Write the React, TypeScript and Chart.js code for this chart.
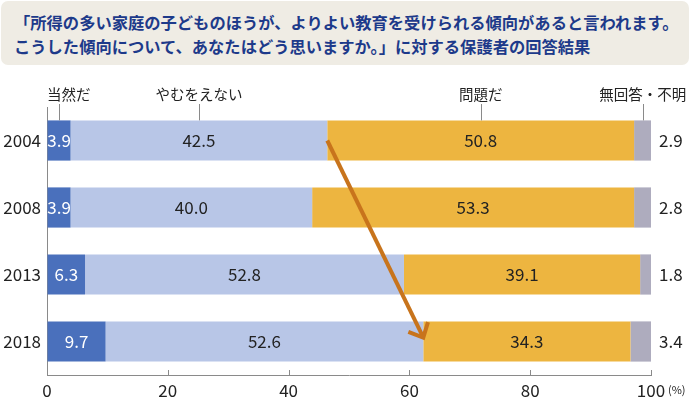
import React, { useEffect, useRef } from 'react';
import { Chart, registerables } from 'chart.js';

Chart.register(...registerables);

const years = ['2004', '2008', '2013', '2018'];
const seriesNames = ['当然だ', 'やむをえない', '問題だ', '無回答・不明'];
const natural = [3.9, 3.9, 6.3, 9.7];
const unavoidable = [42.5, 40.0, 52.8, 52.6];
const problem = [50.8, 53.3, 39.1, 34.3];
const noAnswer = [2.9, 2.8, 1.8, 3.4];
const seriesColors = ['#4A70BC', '#B8C6E7', '#EDB540', '#AEACBE'];
const xTickValues = [0, 20, 40, 60, 80, 100];
const titleLines = [
  '「所得の多い家庭の子どものほうが、よりよい教育を受けられる傾向があると言われます。',
  'こうした傾向について、あなたはどう思いますか。」に対する保護者の回答結果',
];

const FONT = '"Noto Sans CJK JP", "Noto Sans", sans-serif';

const overlayPlugin = {
  id: 'overlay',
  afterDatasetsDraw(chart: any) {
    const ctx = chart.ctx as CanvasRenderingContext2D;
    const area = chart.chartArea;
    const xs = chart.scales.x;
    ctx.save();

    // value labels
    chart.data.datasets.forEach((ds: any, di: number) => {
      const meta = chart.getDatasetMeta(di);
      meta.data.forEach((el: any, i: number) => {
        const v = ds.data[i];
        const txt = v.toFixed(1);
        ctx.font = `17px ${FONT}`;
        ctx.textBaseline = 'middle';
        if (di === 3) {
          ctx.fillStyle = '#222';
          ctx.textAlign = 'left';
          ctx.fillText(txt, area.right + 8, el.y);
        } else {
          ctx.fillStyle = di === 0 ? '#ffffff' : '#222';
          ctx.textAlign = 'center';
          ctx.fillText(txt, (el.x + el.base) / 2, el.y);
        }
      });
    });

    // series headers with leader lines (on first category)
    chart.data.datasets.forEach((ds: any, di: number) => {
      const el = chart.getDatasetMeta(di).data[0];
      const cx = (el.x + el.base) / 2;
      const top = el.y - el.height / 2;
      ctx.strokeStyle = '#8a8a8a';
      ctx.lineWidth = 1;
      ctx.beginPath();
      ctx.moveTo(Math.round(cx) + 0.5, area.top - 3);
      ctx.lineTo(Math.round(cx) + 0.5, top);
      ctx.stroke();
      ctx.font = `14.5px ${FONT}`;
      ctx.fillStyle = '#222';
      ctx.textBaseline = 'middle';
      const w = ctx.measureText(ds.label).width;
      let left = cx - w / 2;
      if (left < area.left) left = area.left;
      if (left + w > chart.width - 2) left = chart.width - 2 - w;
      ctx.textAlign = 'left';
      ctx.fillText(ds.label, left, area.top - 13);
    });

    // upward ticks on x axis
    ctx.strokeStyle = '#8a8a8a';
    ctx.lineWidth = 1;
    xTickValues.forEach((v) => {
      if (v === 0) return;
      const px = Math.round(xs.getPixelForValue(v)) + 0.5;
      ctx.beginPath();
      ctx.moveTo(px, area.bottom - 5);
      ctx.lineTo(px, area.bottom);
      ctx.stroke();
    });

    // (%) unit
    ctx.font = `11px ${FONT}`;
    ctx.fillStyle = '#222';
    ctx.textAlign = 'left';
    ctx.textBaseline = 'middle';
    ctx.fillText('(%)', area.right + 17, area.bottom + 15);

    // arrow from boundary in first year to boundary in last year
    const m1 = chart.getDatasetMeta(1);
    const a = m1.data[0];
    const b = m1.data[m1.data.length - 1];
    const x0 = a.x, y0 = a.y;
    const x1 = b.x, y1 = b.y - 4;
    const ang = Math.atan2(y1 - y0, x1 - x0);
    const back = ang + Math.PI;
    const L = 16;
    const spread = (43 * Math.PI) / 180;
    ctx.strokeStyle = '#C8741C';
    ctx.lineWidth = 4;
    ctx.lineCap = 'butt';
    ctx.lineJoin = 'miter';
    ctx.beginPath();
    ctx.moveTo(x0, y0);
    ctx.lineTo(x1 - Math.cos(ang) * 2, y1 - Math.sin(ang) * 2);
    ctx.stroke();
    ctx.beginPath();
    ctx.moveTo(x1 + Math.cos(back - spread) * L, y1 + Math.sin(back - spread) * L);
    ctx.lineTo(x1, y1);
    ctx.lineTo(x1 + Math.cos(back + spread) * L, y1 + Math.sin(back + spread) * L);
    ctx.stroke();

    ctx.restore();
  },
};

export default function App() {
  const ref = useRef<HTMLCanvasElement | null>(null);
  useEffect(() => {
    if (!ref.current) return;
    const values = [natural, unavoidable, problem, noAnswer];
    const chart = new Chart(ref.current, {
      type: 'bar',
      data: {
        labels: years,
        datasets: seriesNames.map((name, i) => ({
          label: name,
          data: values[i],
          backgroundColor: seriesColors[i],
          borderWidth: 0,
          barPercentage: 0.6,
          categoryPercentage: 1,
        })),
      },
      options: {
        indexAxis: 'y',
        responsive: false,
        animation: false,
        layout: { padding: { top: 107, right: 39, left: 0, bottom: 0 } },
        plugins: {
          legend: { display: false },
          tooltip: { enabled: false },
          title: { display: false },
        },
        scales: {
          x: {
            stacked: true,
            min: 0,
            max: 100,
            afterFit: (s: any) => { s.height = 22; },
            afterBuildTicks: (s: any) => { s.ticks = xTickValues.map((v) => ({ value: v })); },
            ticks: {
              padding: 5,
              color: '#222',
              font: { family: FONT, size: 17 },
            },
            grid: { display: true, drawOnChartArea: false, drawTicks: false },
            border: { display: true, color: '#8a8a8a', width: 1 },
          },
          y: {
            stacked: true,
            afterFit: (s: any) => { s.width = 47; },
            ticks: {
              padding: 6,
              color: '#222',
              font: { family: FONT, size: 17 },
            },
            grid: { display: true, drawOnChartArea: false, drawTicks: false },
            border: { display: true, color: '#8a8a8a', width: 1 },
          },
        },
      },
      plugins: [overlayPlugin],
    } as any);
    return () => chart.destroy();
  }, []);

  return (
    <div style={{ position: 'fixed', left: 0, top: 0, width: 690, height: 397, background: '#fff' }}>
      <canvas ref={ref} width={690} height={397} style={{ position: 'absolute', left: 0, top: 0, width: 690, height: 397 }} />
      <div
        style={{
          position: 'absolute',
          left: 1,
          top: 1,
          width: 688,
          height: 64,
          background: '#EFECE4',
          borderRadius: 7,
          boxSizing: 'border-box',
          padding: '9px 0 0 13px',
          color: '#1D3A8A',
          fontFamily: FONT,
          fontWeight: 700,
          fontSize: 16.3,
          lineHeight: '24px',
          whiteSpace: 'nowrap',
        }}
      >
        {titleLines.map((t, i) => (
          <div key={i}>{t}</div>
        ))}
      </div>
    </div>
  );
}
